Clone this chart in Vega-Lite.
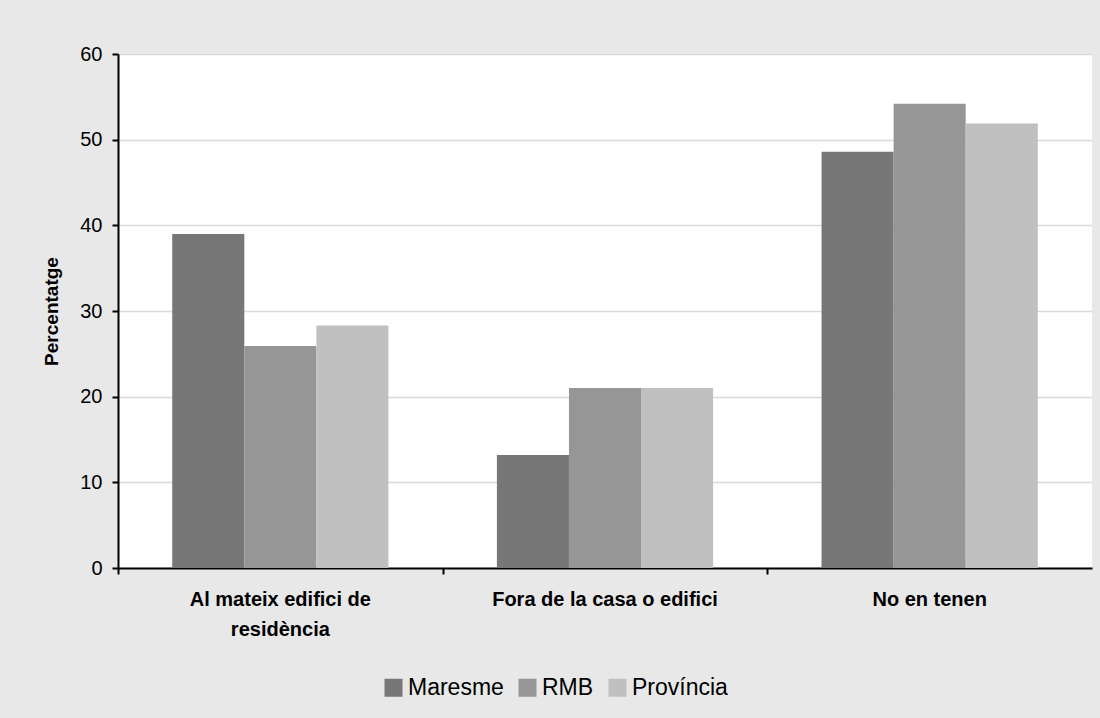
{
  "$schema": "https://vega.github.io/schema/vega-lite/v6.json",
  "width": 974,
  "height": 514,
  "autosize": {"type": "none"},
  "padding": {"left": 118, "top": 54, "right": 8, "bottom": 150},
  "background": "#e8e8e8",
  "data": {
    "values": [
      {"lloc": "Al mateix edifici de residència", "zona": "Maresme", "pct": 39.0},
      {"lloc": "Al mateix edifici de residència", "zona": "RMB", "pct": 25.9},
      {"lloc": "Al mateix edifici de residència", "zona": "Província", "pct": 28.3},
      {"lloc": "Fora de la casa o edifici", "zona": "Maresme", "pct": 13.2},
      {"lloc": "Fora de la casa o edifici", "zona": "RMB", "pct": 21.0},
      {"lloc": "Fora de la casa o edifici", "zona": "Província", "pct": 21.0},
      {"lloc": "No en tenen", "zona": "Maresme", "pct": 48.6},
      {"lloc": "No en tenen", "zona": "RMB", "pct": 54.2},
      {"lloc": "No en tenen", "zona": "Província", "pct": 51.9}
    ]
  },
  "mark": {"type": "bar"},
  "encoding": {
    "x": {
      "field": "lloc",
      "type": "nominal",
      "sort": null,
      "scale": {"paddingInner": 0.334, "paddingOuter": 0.167},
      "axis": {
        "title": null,
        "labelAngle": 0,
        "labelFont": "Liberation Sans",
        "labelFontSize": 20,
        "labelFontWeight": "bold",
        "labelColor": "#000000",
        "labelPadding": 15,
        "labelLineHeight": 30,
        "labelBaseline": "top",
        "labelAlign": "center",
        "labelLimit": 0,
        "labelExpr": "datum.value == 'Al mateix edifici de residència' ? ['Al mateix edifici de', 'residència'] : datum.value",
        "bandPosition": -0.2488,
        "tickSize": 6,
        "tickColor": "#000000",
        "tickWidth": 2,
        "domainColor": "#000000",
        "domainWidth": 2,
        "grid": false
      }
    },
    "xOffset": {"field": "zona", "type": "nominal", "sort": ["Maresme", "RMB", "Província"], "scale": {"paddingInner": 0, "paddingOuter": 0}},
    "y": {
      "field": "pct",
      "type": "quantitative",
      "scale": {"domain": [0, 60]},
      "axis": {
        "title": "Percentatge",
        "titleFont": "Liberation Sans",
        "titleFontSize": 19,
        "titleFontWeight": "bold",
        "titleColor": "#000000",
        "titlePadding": 18,
        "values": [0, 10, 20, 30, 40, 50, 60],
        "labelFont": "Liberation Sans",
        "labelFontSize": 20,
        "labelColor": "#000000",
        "labelPadding": 10,
        "tickSize": 6,
        "tickColor": "#000000",
        "tickWidth": 2,
        "domainColor": "#000000",
        "domainWidth": 2,
        "grid": true,
        "gridColor": "#d9d9d9",
        "gridWidth": 1.5
      }
    },
    "color": {
      "field": "zona",
      "type": "nominal",
      "sort": ["Maresme", "RMB", "Província"],
      "scale": {"domain": ["Maresme", "RMB", "Província"], "range": ["#777777", "#969696", "#c0c0c0"]},
      "legend": {
        "title": null,
        "orient": "none",
        "legendX": 264,
        "legendY": 622,
        "direction": "horizontal",
        "symbolType": "square",
        "symbolSize": 324,
        "symbolStrokeWidth": 0,
        "symbolOpacity": 1,
        "labelFont": "Liberation Sans",
        "labelFontSize": 23,
        "labelColor": "#000000",
        "labelOffset": 3,
        "columnPadding": 12
      }
    }
  },
  "config": {
    "view": {"fill": "#ffffff", "stroke": null}
  }
}
